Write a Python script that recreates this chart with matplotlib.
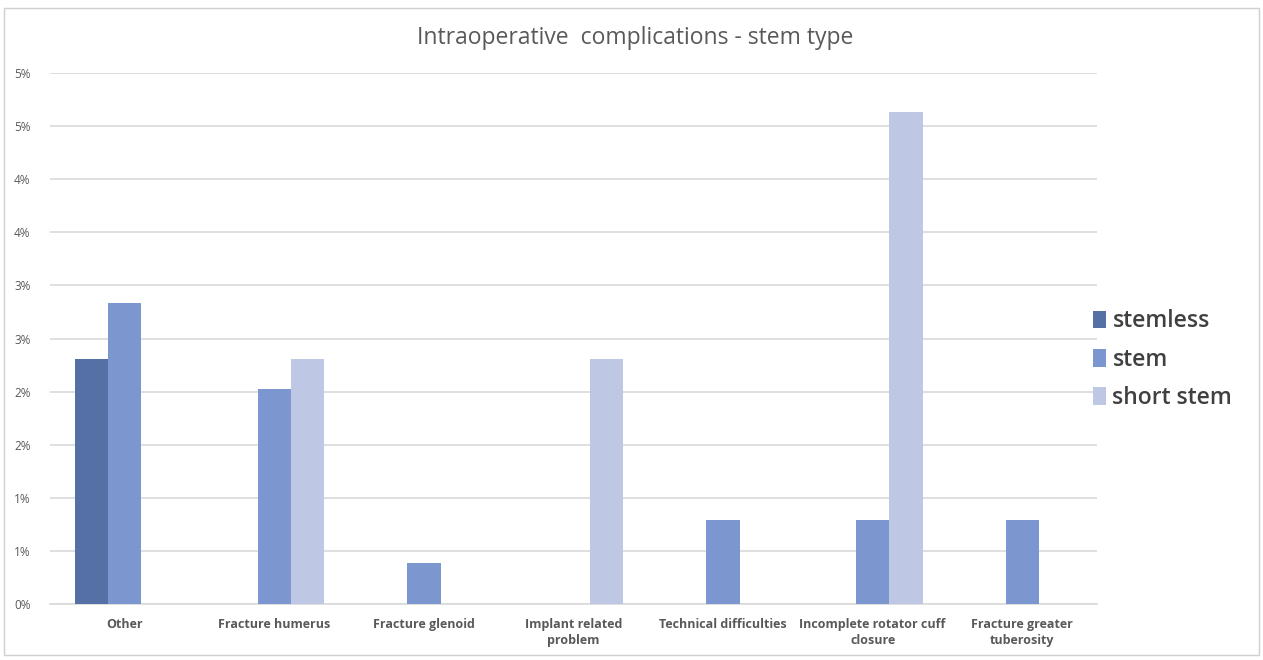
import numpy as np
import matplotlib
matplotlib.use("Agg")
import matplotlib.pyplot as plt
from matplotlib.patches import Rectangle

categories = ["Other", "Fracture humerus", "Fracture glenoid",
              "Implant related\nproblem", "Technical difficulties",
              "Incomplete rotator cuff\nclosure", "Fracture greater\ntuberosity"]
stemless = [2.31, 0, 0, 0, 0, 0, 0]
stem = [2.83, 2.02, 0.39, 0, 0.79, 0.79, 0.79]
short_stem = [0, 2.31, 0, 2.31, 0, 4.63, 0]
y_ticks = [0, 0.5, 1.0, 1.5, 2.0, 2.5, 3.0, 3.5, 4.0, 4.5, 5.0]
y_labels = ["0%", "1%", "1%", "2%", "2%", "3%", "3%", "4%", "4%", "5%", "5%"]

series = [("stemless", stemless, "#5470A5"),
          ("stem", stem, "#7C97CF"),
          ("short stem", short_stem, "#BEC8E5")]

plt.rcParams['font.family'] = ['Open Sans', 'DejaVu Sans']
grey = "#595959"

fig = plt.figure(figsize=(12.63, 6.6), dpi=100)
ax = fig.add_axes([0.0396, 0.0848, 0.829, 0.8046])

x = np.arange(len(categories))
w = 1 / 4.5
for i, (name, vals, col) in enumerate(series):
    ax.bar(x + (i - 1) * w, vals, width=w, color=col, label=name, zorder=3)

ax.set_xlim(-0.5, len(categories) - 0.5)
ax.set_ylim(0, 5.0)
ax.set_yticks(y_ticks)
ax.set_yticklabels(y_labels, fontsize=8.5, color=grey)
ax.set_xticks(x)
ax.set_xticklabels(categories, fontsize=9, color=grey, fontweight="bold",
                   linespacing=1.3)
ax.tick_params(axis="both", length=0)
ax.tick_params(axis="x", pad=10)
ax.tick_params(axis="y", pad=14)
ax.grid(axis="y", color="#D9D9D9", linewidth=1.2, zorder=0)
for s in ["top", "right", "left"]:
    ax.spines[s].set_visible(False)
ax.spines["bottom"].set_color("#D9D9D9")
ax.spines["bottom"].set_linewidth(1.2)

fig.text(0.503, 0.942, "Intraoperative  complications - stem type",
         ha="center", va="center", fontsize=16.5, color=grey)

leg = fig.legend(loc="center left", bbox_to_anchor=(0.849, 0.455), frameon=False,
                 prop={"size": 16.5, "weight": "semibold"}, handlelength=0.55,
                 handleheight=0.8, handletextpad=0.3, labelspacing=0.62)
for t in leg.get_texts():
    t.set_color("#404040")

fig.patches.append(Rectangle((0.003, 0.008), 0.994, 0.98, transform=fig.transFigure,
                             fill=False, edgecolor="#D0D0D0", linewidth=1))

fig.savefig("out.png", dpi=100)
